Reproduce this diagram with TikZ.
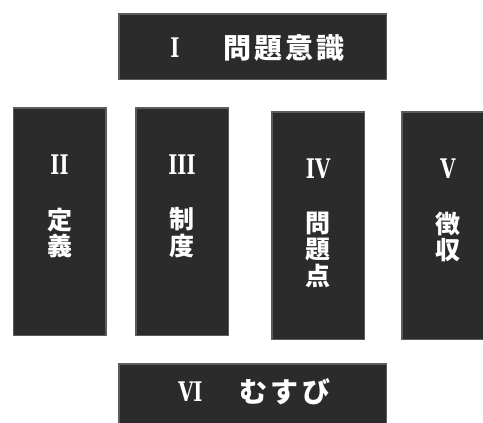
\documentclass[tikz,border=0pt]{standalone}
\usepackage{fontspec}
\setmainfont{DejaVu Serif}[BoldFont={DejaVu Serif Bold}]
\newfontfamily\jpfont{Noto Sans CJK JP}
\newfontfamily\jpwide{Noto Sans CJK JP}[LetterSpace=11]
\definecolor{boxfill}{HTML}{2B2B2B}
\definecolor{boxline}{HTML}{5C5C5C}
\begin{document}
\begin{tikzpicture}[x=1pt, y=-1pt,
        box/.style={draw=boxline, fill=boxfill, line width=1.5pt, inner sep=0pt},
        num/.style={text=white, inner sep=0pt, font=\bfseries\fontsize{27}{27}\selectfont},
        colj/.style={text=white, inner sep=0pt, align=center, anchor=north,
            font=\jpfont\bfseries\fontsize{25}{26.5}\selectfont},
        rowj/.style={text=white, inner sep=0pt, font=\jpwide\bfseries\fontsize{28}{28}\selectfont}]
    \useasboundingbox (0,0) rectangle (483,423);

    \node[box, minimum width=267.5pt, minimum height=65.5pt] (intro) at (252.5, 46.5) {};
    \node[box, minimum width=267.5pt, minimum height=65.5pt] (concl) at (252.5, 396.5) {};

    \foreach[count=\i] \x/\y/\nm/\txt in {59.5/221.5/II/定\\義, 182/221.5/III/制\\度,
            318/225.5/IV/問\\題\\点, 448/225.5/V/徴\\収} {
        \node[box, minimum width=92.5pt, minimum height=227.5pt] (col\i) at (\x, \y) {};
        \node[num] (num\i) at (\x, \y-57) {\scalebox{0.72}[1]{\nm}};
        \node[colj] (txt\i) at (\x, \y-14) {\txt};
    }

    \node[num] (introNum) at (175, 48) {\scalebox{0.72}[1]{I}};
    \node[rowj] (introTxt) at (284, 48) {問題意識};
    \node[num] (conclNum) at (190.5, 392) {\scalebox{0.72}[1]{VI}};
    \node[rowj] (conclTxt) at (285, 392) {むすび};
\end{tikzpicture}
\end{document}
